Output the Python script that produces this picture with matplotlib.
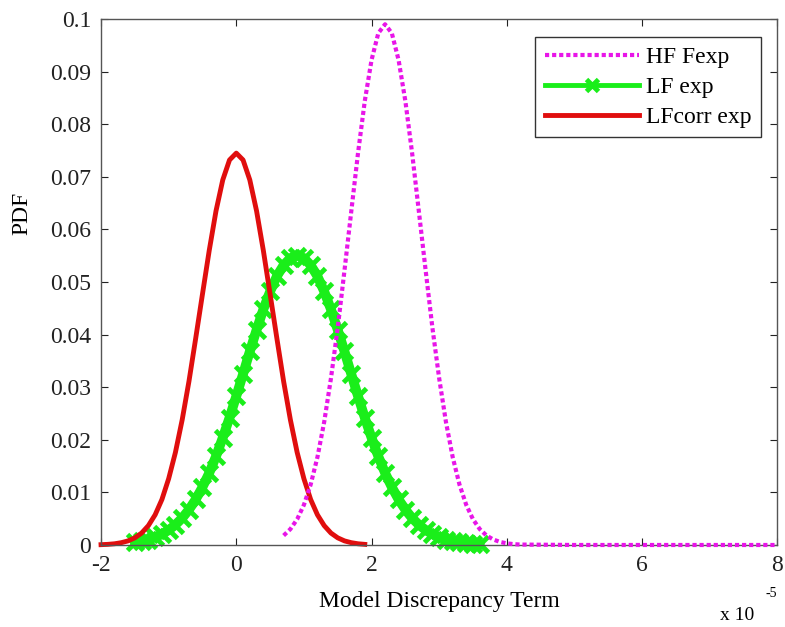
import matplotlib.pyplot as plt
from matplotlib.ticker import FormatStrFormatter, FuncFormatter

plt.rcParams['font.family'] = ['Liberation Serif', 'DejaVu Serif']

# x values are in units of 1e-5
hf_x = [0.7, 0.8, 0.9, 1.0, 1.1, 1.2, 1.3, 1.4, 1.5, 1.6, 1.7, 1.8, 1.9,
        2.0, 2.1, 2.2, 2.3, 2.4, 2.5, 2.6, 2.7, 2.8, 2.9, 3.0, 3.1, 3.2,
        3.3, 3.4, 3.5, 3.6, 3.7, 3.8, 3.9, 4.0, 4.1, 4.2, 5.0, 6.0, 7.0, 8.0]
hf_pdf = [0.0018, 0.00302, 0.00489, 0.00763, 0.0115, 0.0167, 0.0234, 0.0317,
          0.0413, 0.0522, 0.0634, 0.0745, 0.0844, 0.0922, 0.0973, 0.099,
          0.0973, 0.0922, 0.0844, 0.0745, 0.0634, 0.0522, 0.0413, 0.0317,
          0.0234, 0.0167, 0.0115, 0.00763, 0.00489, 0.00302, 0.0018,
          0.00104, 0.00058, 0.00031, 0.00016, 0.00008, 0.0, 0.0, 0.0, 0.0]

lf_x = [-1.5, -1.4, -1.3, -1.2, -1.1, -1.0, -0.9, -0.8, -0.7, -0.6, -0.5,
        -0.4, -0.3, -0.2, -0.1, 0.0, 0.1, 0.2, 0.3, 0.4, 0.5, 0.6, 0.7, 0.8,
        0.9, 1.0, 1.1, 1.2, 1.3, 1.4, 1.5, 1.6, 1.7, 1.8, 1.9, 2.0, 2.1, 2.2,
        2.3, 2.4, 2.5, 2.6, 2.7, 2.8, 2.9, 3.0, 3.1, 3.2, 3.3, 3.4, 3.5, 3.6]
lf_pdf = [0.00048, 0.00071, 0.00103, 0.00147, 0.00206, 0.00283, 0.00384,
          0.00512, 0.00671, 0.00866, 0.0110, 0.0137, 0.01685, 0.0204, 0.0242,
          0.0283, 0.0325, 0.0368, 0.0409, 0.0448, 0.0482, 0.0511, 0.0532,
          0.05455, 0.055, 0.05455, 0.0532, 0.0511, 0.0482, 0.0448, 0.0409,
          0.0368, 0.0325, 0.0283, 0.0242, 0.0204, 0.01685, 0.0137, 0.0110,
          0.00866, 0.00671, 0.00512, 0.00384, 0.00283, 0.00206, 0.00147,
          0.00103, 0.00071, 0.00048, 0.00032, 0.00021, 0.00014]

corr_x = [-2.0, -1.9, -1.8, -1.7, -1.6, -1.5, -1.4, -1.3, -1.2, -1.1, -1.0,
          -0.9, -0.8, -0.7, -0.6, -0.5, -0.4, -0.3, -0.2, -0.1, 0.0, 0.1,
          0.2, 0.3, 0.4, 0.5, 0.6, 0.7, 0.8, 0.9, 1.0, 1.1, 1.2, 1.3, 1.4,
          1.5, 1.6, 1.7, 1.8, 1.9]
corr_pdf = [0.00006, 0.00012, 0.00023, 0.00044, 0.00078, 0.00136, 0.00227,
            0.00368, 0.00574, 0.00864, 0.0126, 0.0176, 0.0238, 0.0311,
            0.0393, 0.0477, 0.0560, 0.0635, 0.0694, 0.0732, 0.0745, 0.0732,
            0.0694, 0.0635, 0.0560, 0.0477, 0.0393, 0.0311, 0.0238, 0.0176,
            0.0126, 0.00864, 0.00574, 0.00368, 0.00227, 0.00136, 0.00078,
            0.00044, 0.00023, 0.00012]

fig = plt.figure(figsize=(7.85, 6.27), dpi=100)
ax = fig.add_axes([0.1287, 0.1308, 0.8615, 0.8389])

ax.plot(hf_x, hf_pdf, color='#e815e8', lw=3, linestyle=(0, (1, 0.7)),
        label='HF Fexp', clip_on=False, zorder=3)
ax.plot(lf_x, lf_pdf, color='#1aee1a', lw=7, marker='x', markersize=11,
        markeredgewidth=3.5, label='LF exp', clip_on=False)
ax.plot(corr_x, corr_pdf, color='#e00e0e', lw=3.5, label='LFcorr exp',
        clip_on=False)

ax.set_xlim(-2, 8)
ax.set_ylim(0, 0.1)
ax.set_xticks(range(-2, 9, 2))
ax.set_yticks([i / 100 for i in range(11)])
ax.xaxis.set_major_formatter(FormatStrFormatter('%g'))
ax.yaxis.set_major_formatter(FuncFormatter(lambda v, p: '%g' % round(v, 2)))
ax.tick_params(direction='in', top=True, right=True, length=5,
               labelsize=17, colors='#222222', pad=7)
for s in ax.spines.values():
    s.set_color('#555555')
    s.set_linewidth(1.0)

ax.set_xlabel('Model Discrepancy Term', fontsize=17, labelpad=11)
ax.set_ylabel('PDF', fontsize=17)
ax.yaxis.set_label_coords(-0.102, 0.631)

fig.text(0.917, 0.011, 'x 10', fontsize=14, ha='left', va='baseline')
fig.text(0.990, 0.048, '-5', fontsize=10, ha='right', va='baseline')

leg = ax.legend(loc='upper right', bbox_to_anchor=(0.976, 0.966),
                borderaxespad=0, fontsize=17, handlelength=4.0,
                labelspacing=0.36, fancybox=False, framealpha=1,
                edgecolor='#333333', borderpad=0.4, handletextpad=0.3)
leg.get_frame().set_linewidth(1.0)
leg_lines = leg.get_lines()
leg_lines[1].set_linewidth(3.5)
leg_lines[1].set_markersize(9)
leg_lines[2].set_linewidth(3.5)

fig.savefig('out.png', dpi=100)
